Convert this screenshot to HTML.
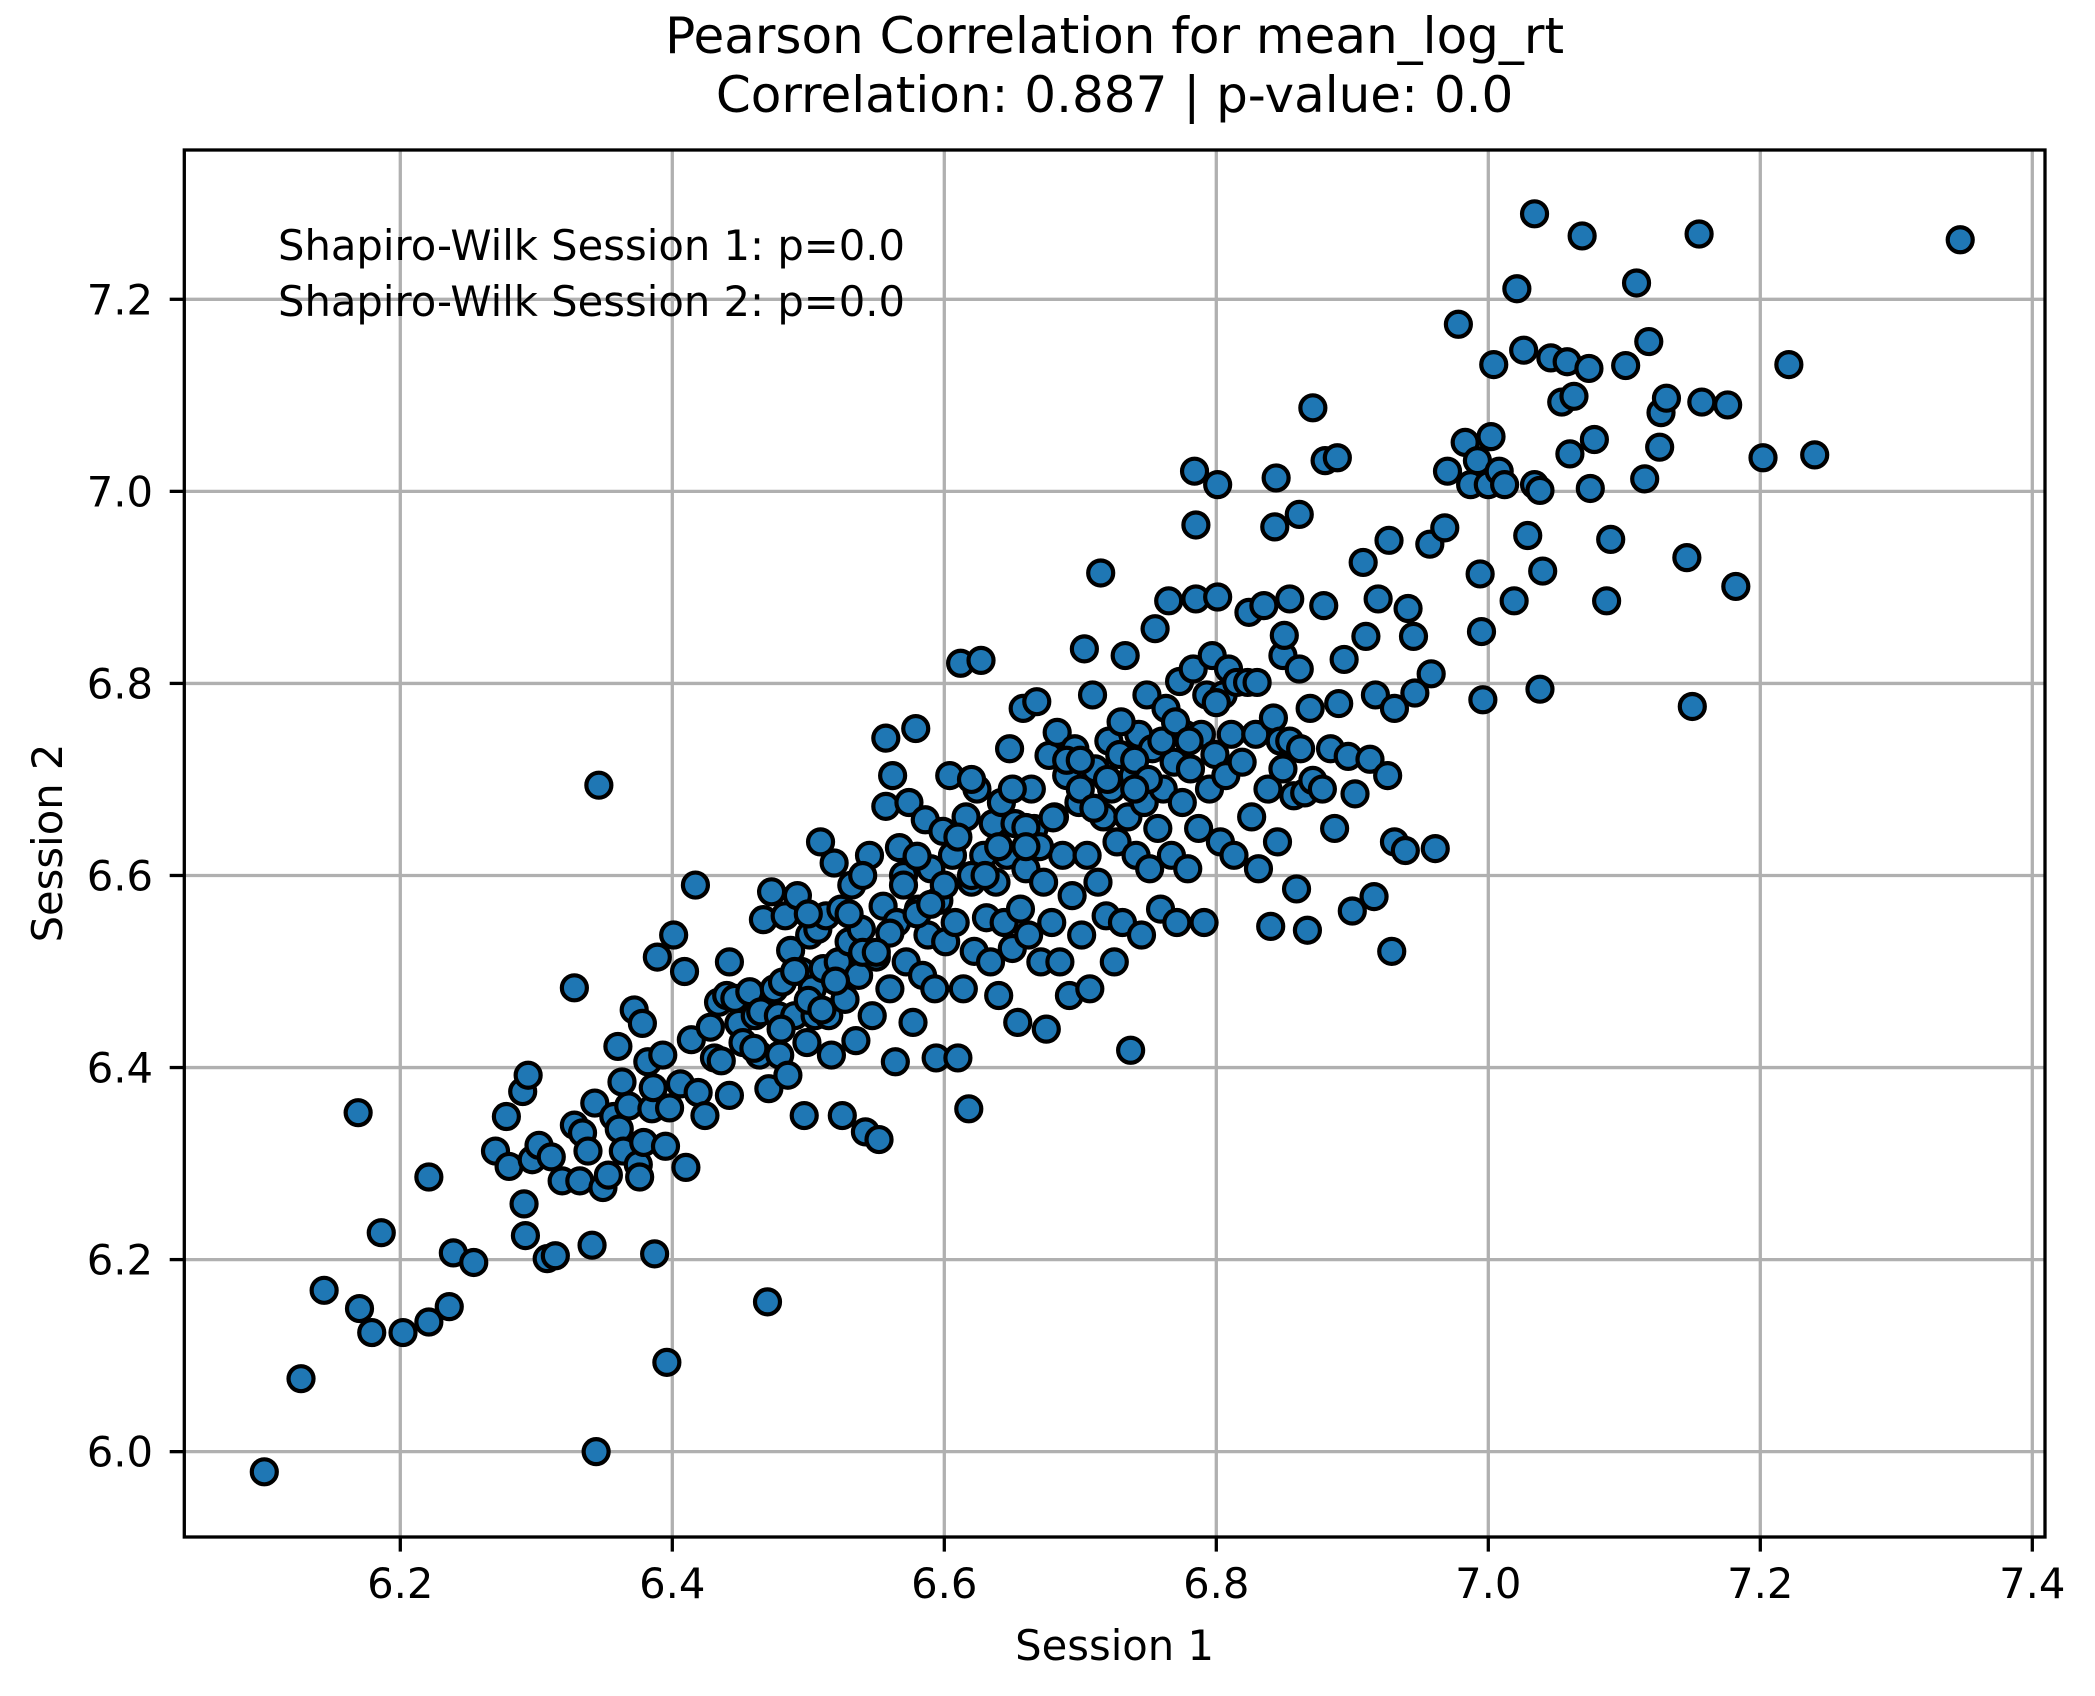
<!DOCTYPE html>
<html><head><meta charset="utf-8"><title>Pearson Correlation for mean_log_rt</title>
<style>html,body{margin:0;padding:0;background:#fff;}svg{display:block;font-family:"DejaVu Sans","Liberation Sans",sans-serif;}</style>
</head><body>
<svg id="chart" width="2095" height="1696" viewBox="0 0 2095 1696" xmlns="http://www.w3.org/2000/svg">
<rect width="2095" height="1696" fill="#fff"/>
<g id="grid"></g>
<g id="points"></g>
<rect x="184.3" y="150" width="1860.7" height="1387" fill="none" stroke="#000" stroke-width="3.3"/>
<g id="xticks"></g>
<g id="yticks"></g>
<text x="1114.6" y="53" font-size="50" text-anchor="middle">Pearson Correlation for mean_log_rt</text>
<text x="1114.6" y="112" font-size="50" text-anchor="middle">Correlation: 0.887 | p-value: 0.0</text>
<text x="1114.6" y="1660" font-size="41.7" text-anchor="middle">Session 1</text>
<text transform="translate(62,843) rotate(-90)" font-size="41.7" text-anchor="middle">Session 2</text>
<text x="278" y="260" font-size="41.7">Shapiro-Wilk Session 1: p=0.0</text>
<text x="278" y="316" font-size="41.7">Shapiro-Wilk Session 2: p=0.0</text>
</svg>
<script>
const xTicks = [6.2, 6.4, 6.6, 6.8, 7.0, 7.2, 7.4];
const yTicks = [6.0, 6.2, 6.4, 6.6, 6.8, 7.0, 7.2];
const xTickLabels = ["6.2","6.4","6.6","6.8","7.0","7.2","7.4"];
const yTickLabels = ["6.0","6.2","6.4","6.6","6.8","7.0","7.2"];
const session1 = [6.100,6.127,6.144,6.170,6.169,6.179,6.186,6.202,6.221,6.221,6.236,6.239,6.254,6.270,6.278,6.280,6.290,6.294,6.291,6.292,6.297,6.302,6.308,6.311,6.314,6.319,6.328,6.328,6.332,6.334,6.338,6.341,6.343,6.346,6.344,6.349,6.353,6.357,6.360,6.361,6.363,6.364,6.368,6.372,6.375,6.376,6.378,6.379,6.382,6.385,6.386,6.387,6.389,6.393,6.395,6.396,6.398,6.401,6.406,6.409,6.410,6.414,6.417,6.419,6.424,6.428,6.431,6.434,6.436,6.440,6.442,6.442,6.446,6.449,6.452,6.457,6.461,6.464,6.465,6.467,6.470,6.471,6.473,6.475,6.478,6.479,6.481,6.483,6.485,6.487,6.490,6.492,6.495,6.497,6.499,6.501,6.503,6.505,6.507,6.509,6.511,6.513,6.515,6.517,6.519,6.522,6.524,6.525,6.527,6.530,6.532,6.535,6.537,6.539,6.542,6.545,6.547,6.550,6.552,6.555,6.557,6.557,6.560,6.562,6.564,6.565,6.567,6.570,6.572,6.574,6.577,6.579,6.581,6.584,6.586,6.588,6.590,6.593,6.594,6.596,6.599,6.601,6.604,6.606,6.608,6.610,6.612,6.614,6.616,6.618,6.620,6.622,6.624,6.627,6.629,6.631,6.634,6.636,6.638,6.640,6.642,6.644,6.646,6.648,6.650,6.652,6.654,6.656,6.658,6.660,6.662,6.664,6.666,6.668,6.671,6.673,6.675,6.677,6.679,6.681,6.683,6.685,6.687,6.690,6.692,6.694,6.696,6.699,6.701,6.703,6.705,6.707,6.709,6.711,6.713,6.715,6.717,6.719,6.721,6.723,6.725,6.727,6.729,6.731,6.733,6.735,6.737,6.739,6.741,6.743,6.745,6.747,6.749,6.751,6.753,6.755,6.757,6.759,6.761,6.763,6.765,6.767,6.769,6.771,6.773,6.775,6.777,6.779,6.781,6.783,6.785,6.785,6.784,6.787,6.789,6.791,6.793,6.795,6.797,6.799,6.801,6.801,6.803,6.805,6.807,6.809,6.811,6.813,6.815,6.819,6.823,6.824,6.826,6.829,6.831,6.835,6.838,6.840,6.842,6.830,6.844,6.843,6.845,6.847,6.849,6.849,6.850,6.854,6.854,6.857,6.859,6.861,6.861,6.862,6.865,6.867,6.869,6.871,6.871,6.879,6.878,6.880,6.884,6.887,6.889,6.890,6.894,6.897,6.900,6.902,6.908,6.910,6.913,6.916,6.917,6.919,6.926,6.927,6.929,6.931,6.931,6.939,6.941,6.945,6.946,6.957,6.958,6.961,6.968,6.970,6.978,6.983,6.987,6.992,6.994,6.995,6.996,7.000,7.002,7.004,7.008,7.012,7.019,7.021,7.026,7.029,7.034,7.034,7.038,7.040,7.038,7.046,7.054,7.058,7.060,7.063,7.069,7.074,7.075,7.078,7.090,7.087,7.101,7.109,7.115,7.118,7.126,7.127,7.131,7.146,7.150,7.155,7.157,7.176,7.182,7.202,7.221,7.240,7.347,
6.480,6.500,6.520,6.540,6.560,6.580,6.600,6.620,6.640,6.660,6.680,6.700,6.720,6.740,6.760,6.490,6.510,6.530,6.550,6.570,6.590,6.610,6.630,6.650,6.670,6.690,6.710,6.730,6.750,6.770,6.460,6.500,6.540,6.580,6.620,6.660,6.700,6.740,6.780,6.800];
const session2 = [5.979,6.076,6.168,6.149,6.353,6.124,6.228,6.124,6.286,6.135,6.151,6.207,6.197,6.313,6.349,6.297,6.375,6.392,6.258,6.225,6.304,6.319,6.201,6.307,6.204,6.282,6.483,6.340,6.282,6.332,6.313,6.215,6.363,6.694,6.000,6.275,6.288,6.349,6.422,6.336,6.385,6.313,6.360,6.460,6.299,6.286,6.446,6.322,6.406,6.357,6.379,6.206,6.515,6.413,6.318,6.093,6.358,6.538,6.383,6.500,6.296,6.429,6.590,6.374,6.350,6.442,6.410,6.468,6.407,6.475,6.510,6.371,6.472,6.446,6.426,6.479,6.454,6.413,6.458,6.554,6.156,6.378,6.583,6.482,6.454,6.413,6.489,6.558,6.392,6.522,6.454,6.579,6.500,6.350,6.426,6.538,6.482,6.454,6.544,6.635,6.503,6.558,6.454,6.413,6.613,6.510,6.565,6.350,6.471,6.531,6.590,6.428,6.496,6.544,6.333,6.621,6.454,6.515,6.325,6.568,6.672,6.743,6.482,6.704,6.406,6.551,6.629,6.600,6.510,6.676,6.447,6.753,6.565,6.496,6.658,6.538,6.607,6.482,6.410,6.574,6.646,6.531,6.704,6.621,6.551,6.410,6.821,6.482,6.661,6.357,6.593,6.521,6.690,6.824,6.621,6.556,6.510,6.654,6.593,6.475,6.676,6.551,6.621,6.732,6.524,6.654,6.447,6.565,6.774,6.607,6.538,6.690,6.649,6.781,6.510,6.593,6.440,6.725,6.551,6.661,6.749,6.510,6.621,6.704,6.475,6.579,6.732,6.676,6.538,6.836,6.621,6.482,6.788,6.711,6.593,6.915,6.661,6.558,6.740,6.690,6.510,6.635,6.726,6.551,6.829,6.661,6.418,6.704,6.621,6.747,6.538,6.676,6.788,6.607,6.732,6.857,6.649,6.565,6.690,6.774,6.886,6.621,6.718,6.551,6.802,6.676,6.747,6.607,6.711,6.815,6.888,6.965,7.021,6.649,6.747,6.551,6.788,6.690,6.829,6.726,6.890,7.007,6.635,6.788,6.704,6.815,6.747,6.621,6.801,6.718,6.801,6.874,6.661,6.747,6.607,6.881,6.690,6.547,6.764,6.801,7.014,6.963,6.635,6.740,6.829,6.711,6.850,6.888,6.740,6.683,6.586,6.976,6.815,6.732,6.686,6.543,6.774,6.699,7.087,6.881,6.690,7.032,6.732,6.649,7.035,6.779,6.825,6.724,6.563,6.685,6.926,6.849,6.721,6.578,6.788,6.888,6.704,6.949,6.521,6.774,6.635,6.626,6.878,6.849,6.790,6.945,6.810,6.628,6.962,7.021,7.174,7.051,7.007,7.032,6.914,6.854,6.783,7.007,7.057,7.132,7.021,7.007,6.886,7.211,7.147,6.954,7.289,7.007,6.794,6.917,7.001,7.139,7.093,7.135,7.039,7.099,7.266,7.128,7.003,7.054,6.950,6.886,7.131,7.217,7.013,7.156,7.046,7.082,7.097,6.931,6.776,7.268,7.093,7.090,6.901,7.035,7.132,7.038,7.262,
6.440,6.470,6.490,6.520,6.540,6.560,6.590,6.600,6.630,6.650,6.660,6.690,6.700,6.720,6.740,6.500,6.460,6.560,6.520,6.590,6.570,6.640,6.600,6.690,6.630,6.720,6.670,6.760,6.700,6.760,6.420,6.560,6.600,6.620,6.700,6.630,6.720,6.690,6.740,6.780];

const NS = "http://www.w3.org/2000/svg";
const plotL = 184.3, plotR = 2045, plotT = 150, plotB = 1537;
function xScale(v){ return 400.3 + (v - 6.2) * 1360; }
function yScale(v){ return 299.3 - (v - 7.2) * 960.3; }
function mk(tag, attrs){ const e = document.createElementNS(NS, tag); for (const k in attrs) e.setAttribute(k, attrs[k]); return e; }

const grid = document.getElementById('grid');
const xg = document.getElementById('xticks');
const yg = document.getElementById('yticks');
xTicks.forEach((t, i) => {
  const x = xScale(t);
  const gl = mk('line', {x1:x, x2:x, y1:plotT, y2:plotB, stroke:'#b0b0b0', 'stroke-width':3.3});
  
  
  grid.appendChild(gl);
  const tk = mk('line', {x1:x, x2:x, y1:plotB, y2:plotB + 14.6, stroke:'#000', 'stroke-width':3.3});
  
  
  xg.appendChild(tk);
  const lb = mk('text', {x:x, y:1598, 'font-size':41.7, 'text-anchor':'middle'});
  lb.textContent = xTickLabels[i];
  
  
  xg.appendChild(lb);
});
yTicks.forEach((t, i) => {
  const y = yScale(t);
  const gl = mk('line', {x1:plotL, x2:plotR, y1:y, y2:y, stroke:'#b0b0b0', 'stroke-width':3.3});
  
  
  grid.appendChild(gl);
  const tk = mk('line', {x1:plotL - 14.6, x2:plotL, y1:y, y2:y, stroke:'#000', 'stroke-width':3.3});
  
  
  yg.appendChild(tk);
  const lb = mk('text', {x:153, y:y + 15, 'font-size':41.7, 'text-anchor':'end'});
  lb.textContent = yTickLabels[i];
  
  
  yg.appendChild(lb);
});
const pts = document.getElementById('points');
const n = Math.min(session1.length, session2.length);
for (let i = 0; i < n; i++) {
  const c = mk('circle', {cx:xScale(session1[i]), cy:yScale(session2[i]), r:12.5, fill:'#1f77b4', stroke:'#000', 'stroke-width':4.2});
  
  
  pts.appendChild(c);
}
</script>
</body></html>
